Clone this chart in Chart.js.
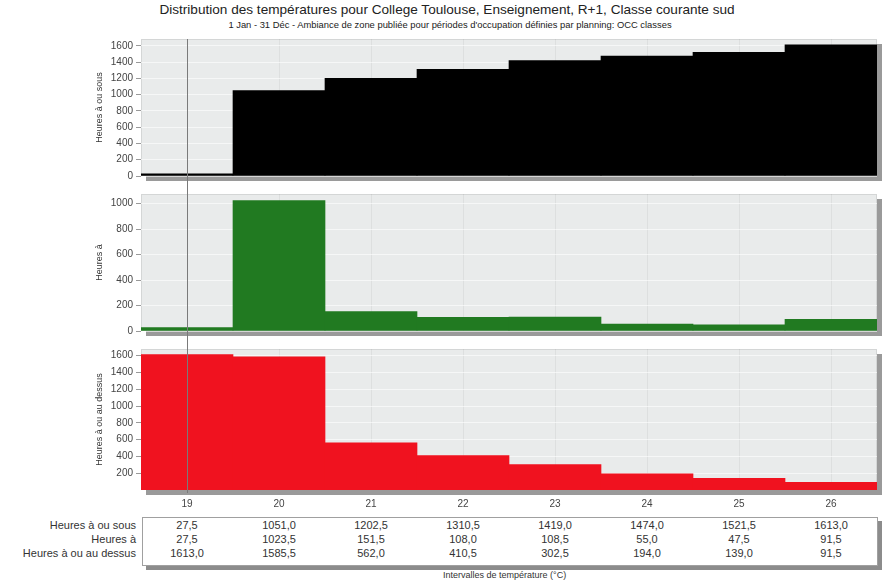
<!DOCTYPE html>
<html>
<head>
<meta charset="utf-8">
<script src="https://cdn.jsdelivr.net/npm/chart.js@4"></script>
<style>
  body { margin: 0; background: #fff; font-family: "Liberation Sans", Arial, sans-serif; color: #222; }
  #page { position: relative; width: 889px; height: 584px; overflow: hidden; }
  .c { position: absolute; left: 0; width: 889px; }
  #title { position: absolute; top: 2px; left: 0; width: 894px; text-align: center; font-size: 13.6px; }
  #subtitle { position: absolute; top: 19px; left: 0; width: 900px; text-align: center; font-size: 9.4px; }
  #table { position: absolute; left: 142px; top: 517px; width: 734px; height: 47px; border: 1px solid #a0a0a0; background: #fff; box-shadow: 4px 4px 0 #8c8c8c; }
  .lbl { position: absolute; right: 753px; font-size: 11px; color: #333; white-space: nowrap; }
  .val { position: absolute; font-size: 11px; color: #333; transform: translateX(-50%); white-space: nowrap; }
  #xtitle { position: absolute; left: 443px; top: 570px; font-size: 9px; color: #333; }
</style>
</head>
<body>
<div id="page">
  <div id="title">Distribution des températures pour College Toulouse, Enseignement, R+1, Classe courante sud</div>
  <div id="subtitle">1 Jan - 31 Déc - Ambiance de zone publiée pour périodes d'occupation définies par planning: OCC classes</div>
  <canvas id="c1" class="c" style="top:30px;height:155px" width="889" height="155"></canvas>
  <canvas id="c2" class="c" style="top:185px;height:155px" width="889" height="155"></canvas>
  <canvas id="c3" class="c" style="top:340px;height:172px" width="889" height="172"></canvas>
  <div id="table"></div>
  <div id="xtitle">Intervalles de température (°C)</div>
</div>
<script>
const temperatures = ['19', '20', '21', '22', '23', '24', '25', '26'];
const heuresAOuSous = [27.5, 1051.0, 1202.5, 1310.5, 1419.0, 1474.0, 1521.5, 1613.0];
const heuresA = [27.5, 1023.5, 151.5, 108.0, 108.5, 55.0, 47.5, 91.5];
const heuresAOuAuDessus = [1613.0, 1585.5, 562.0, 410.5, 302.5, 194.0, 139.0, 91.5];
const rowNames = ['Heures à ou sous', 'Heures à', 'Heures à ou au dessus'];

const FONT = "'Liberation Sans', Arial, sans-serif";

// shadow + grey background behind each plot, marker line at 19
const panelPlugin = {
    id: 'panel',
    beforeDraw(chart) {
        const a = chart.chartArea;
        const ctx = chart.ctx;
        ctx.save();
        ctx.fillStyle = '#9a9a9a';
        ctx.fillRect(a.left + 5, a.top + 5, a.right - a.left, a.bottom - a.top);
        ctx.fillStyle = '#e9ebeb';
        ctx.fillRect(a.left, a.top, a.right - a.left, a.bottom - a.top);
        ctx.strokeStyle = '#d4d6d6';
        ctx.lineWidth = 1;
        ctx.strokeRect(a.left + 0.5, a.top + 0.5, a.right - a.left - 1, a.bottom - a.top - 1);
        ctx.restore();
    },
    afterDatasetsDraw(chart, args, opts) {
        const x = Math.round(chart.scales.x.getPixelForValue(0)) + 0.5;
        const a = chart.chartArea;
        const ctx = chart.ctx;
        const y0 = opts.fromTop ? a.top : 0;
        const y1 = opts.toBottom ? a.bottom + 3 : chart.height;
        ctx.save();
        ctx.strokeStyle = '#7a7a7a';
        ctx.lineWidth = 1;
        ctx.beginPath();
        ctx.moveTo(x, y0);
        ctx.lineTo(x, y1);
        ctx.stroke();
        ctx.restore();
    }
};

function makePanel(id, data, color, yTitle, yMax, pad, opts) {
    return new Chart(document.getElementById(id), {
        type: 'bar',
        data: {
            labels: temperatures,
            datasets: [{
                data: data,
                backgroundColor: color,
                borderWidth: 0,
                barPercentage: 1,
                categoryPercentage: 1
            }]
        },
        plugins: [panelPlugin],
        options: {
            responsive: false,
            animation: false,
            devicePixelRatio: 1,
            layout: { padding: { left: 90, right: 12, top: pad.top, bottom: pad.bottom } },
            plugins: {
                legend: { display: false },
                tooltip: { enabled: false },
                panel: opts
            },
            scales: {
                x: {
                    grid: { color: 'rgba(0,0,0,0.05)', drawTicks: false, offset: false },
                    border: { display: false },
                    ticks: {
                        display: opts.showLabels,
                        padding: 8,
                        color: '#444',
                        font: { family: FONT, size: 10 }
                    },
                    afterFit(scale) { scale.height = opts.showLabels ? 22 : 0; }
                },
                y: {
                    min: 0,
                    max: yMax,
                    ticks: {
                        padding: 3,
                        color: '#444',
                        font: { family: FONT, size: 10 },
                        callback: v => String(v)
                    },
                    afterBuildTicks(scale) {
                        const t = [];
                        for (let v = opts.minTick; v <= yMax; v += 200) t.push({ value: v });
                        scale.ticks = t;
                    },
                    grid: { color: 'rgba(255,255,255,0.6)', tickLength: 5, tickColor: '#999' },
                    border: { display: false },
                    title: {
                        display: true,
                        text: yTitle,
                        color: '#333',
                        font: { family: FONT, size: 9 },
                        padding: 4
                    },
                    afterFit(scale) { scale.width = 51; }
                }
            }
        }
    });
}

makePanel('c1', heuresAOuSous, '#000000', 'Heures à ou sous', 1685, { top: 5, bottom: 8 },
    { fromTop: true, toBottom: false, showLabels: false, minTick: 0 });
makePanel('c2', heuresA, '#217a21', 'Heures à', 1075, { top: 6, bottom: 7 },
    { fromTop: false, toBottom: false, showLabels: false, minTick: 0 });
const bottom = makePanel('c3', heuresAOuAuDessus, '#f0121f', 'Heures à ou au dessus', 1680, { top: 8, bottom: 0 },
    { fromTop: false, toBottom: true, showLabels: true, minTick: 200 });

// summary table under the chart, columns placed with the chart's x scale
const page = document.getElementById('page');
const series = [heuresAOuSous, heuresA, heuresAOuAuDessus];
const rowY = [519, 533, 547];
rowNames.forEach((name, r) => {
    const l = document.createElement('div');
    l.className = 'lbl';
    l.style.top = rowY[r] + 'px';
    l.innerText = name;
    page.appendChild(l);
    series[r].forEach((v, i) => {
        const d = document.createElement('div');
        d.className = 'val';
        d.style.left = bottom.scales.x.getPixelForValue(i) + 'px';
        d.style.top = rowY[r] + 'px';
        d.innerText = v.toFixed(1).replace('.', ',');
        page.appendChild(d);
    });
});
</script>
</body>
</html>
